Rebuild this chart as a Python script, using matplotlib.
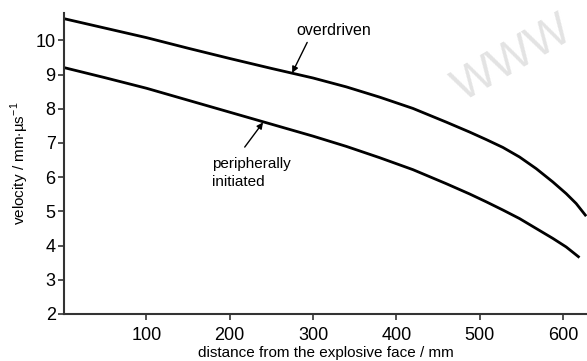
import matplotlib
matplotlib.use("Agg")
import matplotlib.pyplot as plt

plt.rcParams['font.family'] = ['Liberation Sans', 'DejaVu Sans']
plt.rcParams['mathtext.fontset'] = 'custom'
plt.rcParams['mathtext.rm'] = 'Liberation Sans'

# data
x_over = [0, 50, 100, 150, 200, 250, 300, 340, 380, 420, 460, 488, 508, 528, 548, 568, 588, 604, 616, 628]
y_over = [10.64, 10.36, 10.08, 9.77, 9.47, 9.18, 8.9, 8.64, 8.34, 8.01, 7.61, 7.32, 7.10, 6.87, 6.59,
          6.25, 5.86, 5.52, 5.23, 4.86]
x_peri = [0, 50, 100, 150, 200, 250, 300, 340, 380, 420, 460, 488, 508, 528, 548, 568, 588, 604, 620]
y_peri = [9.21, 8.91, 8.6, 8.25, 7.9, 7.55, 7.2, 6.9, 6.57, 6.22, 5.81, 5.51, 5.28, 5.04, 4.79,
          4.50, 4.21, 3.96, 3.65]
xticks = [100, 200, 300, 400, 500, 600]
yticks = [2, 3, 4, 5, 6, 7, 8, 9, 10]

fig = plt.figure(figsize=(5.87, 3.61), dpi=100)
ax = fig.add_axes([64/587, 47/361, (587-64)/587, (314-13)/361])
ax.plot(x_over, y_over, color='black', lw=2.0, solid_capstyle='butt', solid_joinstyle='round')
ax.plot(x_peri, y_peri, color='black', lw=2.0, solid_capstyle='butt', solid_joinstyle='round')
ax.set_xlim(1, 629)
ax.set_ylim(2, 10.8)
ax.set_xticks(xticks)
ax.set_yticks(yticks)
for s in ['top', 'right']:
    ax.spines[s].set_visible(False)
for s in ['left', 'bottom']:
    ax.spines[s].set_linewidth(1.5)
    ax.spines[s].set_color('#333333')
ax.tick_params(direction='out', length=4, width=1.2, labelsize=13, color='#333333')
ax.tick_params(axis='x', pad=5)
ax.tick_params(axis='y', pad=2)
ax.set_xlabel('distance from the explosive face / mm', fontsize=11, labelpad=2)
ax.set_ylabel(r'velocity / mm$\cdot$µs$^{\mathregular{-1}}$', fontsize=11, labelpad=3)

ax.text(280, 10.29, 'overdriven', fontsize=11.5, ha='left', va='center')
ax.annotate('', xy=(275, 9.05), xytext=(293, 9.94),
            arrowprops=dict(arrowstyle='-|>', color='black', lw=1, shrinkA=0, shrinkB=0,
                            mutation_scale=9))
ax.text(179, 6.13, 'peripherally\ninitiated', fontsize=11, ha='left', va='center',
        linespacing=1.37)
ax.annotate('', xy=(240, 7.6), xytext=(218, 6.88),
            arrowprops=dict(arrowstyle='-|>', color='black', lw=1, shrinkA=0, shrinkB=0,
                            mutation_scale=9))

ax.text(540, 9.45, 'WWW', fontsize=33, color='#e3e3e3', rotation=30,
        family=['Liberation Sans'],
        ha='center', va='center', zorder=0)

fig.savefig('out.png', dpi=100)
